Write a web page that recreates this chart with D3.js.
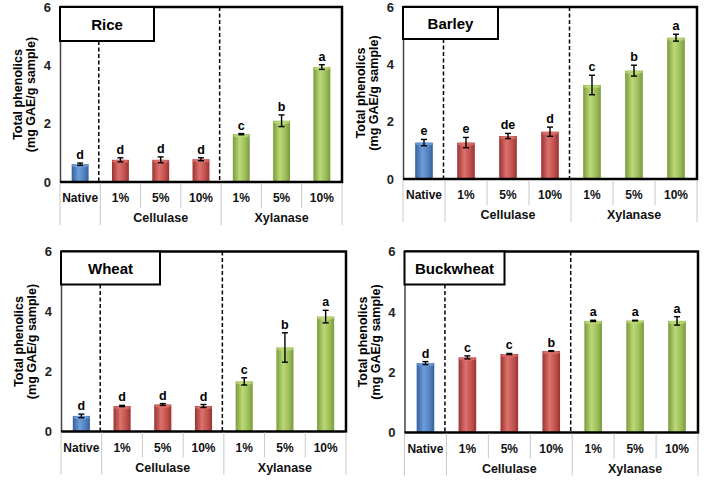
<!DOCTYPE html>
<html lang="en">
<head>
    <meta charset="UTF-8">
    <title>Total phenolics</title>
    <script src="https://cdn.jsdelivr.net/npm/d3@7/dist/d3.min.js"></script>
    <style>
        body { margin: 0; background: #fff; }
        text { font-family: "Liberation Sans", Arial, sans-serif; font-weight: bold; fill: #000; }
    </style>
</head>
<body>
    <script>
        // data
        const categories = ["Native", "C1", "C5", "C10", "X1", "X5", "X10"];
        const tickLabels = ["Native", "1%", "5%", "10%", "1%", "5%", "10%"];
        const groups = ["Cellulase", "Xylanase"];
        const yTicks = [0, 2, 4, 6];

        const riceValues = [0.61, 0.76, 0.76, 0.78, 1.64, 2.10, 3.94];
        const riceErrors = [0.04, 0.07, 0.10, 0.05, 0.02, 0.20, 0.08];
        const riceLetters = ["d", "d", "d", "d", "c", "b", "a"];

        const barleyValues = [1.27, 1.27, 1.50, 1.65, 3.28, 3.78, 4.93];
        const barleyErrors = [0.11, 0.18, 0.09, 0.16, 0.34, 0.19, 0.12];
        const barleyLetters = ["e", "e", "de", "d", "c", "b", "a"];

        const wheatValues = [0.52, 0.85, 0.90, 0.85, 1.67, 2.80, 3.83];
        const wheatErrors = [0.06, 0.02, 0.03, 0.05, 0.12, 0.49, 0.21];
        const wheatLetters = ["d", "d", "d", "d", "c", "b", "a"];

        const buckValues = [2.30, 2.49, 2.60, 2.70, 3.70, 3.71, 3.70];
        const buckErrors = [0.05, 0.05, 0.02, 0.01, 0.02, 0.01, 0.14];
        const buckLetters = ["d", "c", "c", "b", "a", "a", "a"];

        const w = 710, h = 499;

        const svg = d3.select("body")
            .append("svg")
            .attr("width", w)
            .attr("height", h);

        // cylinder-like shading per treatment
        const shades = {
            blue:  ["#35609a", "#6e9ddb", "#4f81bd"],
            red:   ["#9a3330", "#dc716d", "#c0504d"],
            green: ["#7a9a3a", "#bcd978", "#9bbb59"]
        };
        const defs = svg.append("defs");
        Object.keys(shades).forEach(k => {
            const g = defs.append("linearGradient").attr("id", "g-" + k)
                .attr("x1", "0%").attr("x2", "100%").attr("y1", "0%").attr("y2", "0%");
            g.append("stop").attr("offset", "0%").attr("stop-color", shades[k][0]);
            g.append("stop").attr("offset", "40%").attr("stop-color", shades[k][1]);
            g.append("stop").attr("offset", "75%").attr("stop-color", shades[k][2]);
            g.append("stop").attr("offset", "100%").attr("stop-color", shades[k][0]);
        });
        const colorOf = i => i === 0 ? "blue" : (i < 4 ? "red" : "green");

        const panels = [
            { name: "Rice", values: riceValues, errors: riceErrors, letters: riceLetters,
              left: 60, right: 342, top: 7, bottom: 182, tw: 94, th: 34 },
            { name: "Barley", values: barleyValues, errors: barleyErrors, letters: barleyLetters,
              left: 403, right: 697, top: 7, bottom: 179, tw: 95, th: 32 },
            { name: "Wheat", values: wheatValues, errors: wheatErrors, letters: wheatLetters,
              left: 61, right: 346, top: 251.5, bottom: 431.5, tw: 99, th: 33 },
            { name: "Buckwheat", values: buckValues, errors: buckErrors, letters: buckLetters,
              left: 404.5, right: 698, top: 251.5, bottom: 432.5, tw: 100, th: 33 }
        ];

        panels.forEach(p => {
            const g = svg.append("g");
            const rows = categories.map((c, i) => ({
                cat: c, v: p.values[i], e: p.errors[i], l: p.letters[i], i: i
            }));

            const x = d3.scaleBand()
                .domain(categories)
                .range([p.left, p.right])
                .paddingInner(0.58)
                .paddingOuter(0.29);
            const step = x.step();
            const y = d3.scaleLinear().domain([0, 6]).range([p.bottom, p.top]);

            // y axis
            const yAxis = d3.axisLeft(y).tickValues(yTicks).tickFormat(d3.format("d"))
                .tickSize(0).tickPadding(9);
            const ga = g.append("g")
                .attr("transform", "translate(" + p.left + ",0)")
                .call(yAxis);
            ga.select(".domain").attr("stroke", "#444").attr("stroke-width", 1.5);
            ga.selectAll("text").style("font-size", "13px").style("fill", "#222");

            // y title
            const cy = (p.top + p.bottom) / 2;
            g.append("text")
                .attr("transform", "translate(" + (p.left - 38) + "," + cy + ") rotate(-90)")
                .attr("text-anchor", "middle")
                .style("font-size", "12.5px")
                .text("Total phenolics");
            g.append("text")
                .attr("transform", "translate(" + (p.left - 25) + "," + cy + ") rotate(-90)")
                .attr("text-anchor", "middle")
                .style("font-size", "12.5px")
                .text("(mg GAE/g sample)");

            // dashed separators between treatments
            const b1 = p.left + step - 1.5;
            const b2 = p.left + 4 * step - 1.5;
            g.append("line")
                .attr("x1", b1).attr("x2", b1)
                .attr("y1", p.top + p.th).attr("y2", p.bottom)
                .attr("stroke", "#000").attr("stroke-width", 1.5)
                .attr("stroke-dasharray", "4,2.5");
            g.append("line")
                .attr("x1", b2).attr("x2", b2)
                .attr("y1", p.top).attr("y2", p.bottom)
                .attr("stroke", "#000").attr("stroke-width", 1.5)
                .attr("stroke-dasharray", "4,2.5");

            // bars
            g.selectAll("rect.bar")
                .data(rows)
                .enter()
                .append("rect")
                .attr("class", "bar")
                .attr("x", d => x(d.cat))
                .attr("y", d => y(d.v))
                .attr("width", x.bandwidth())
                .attr("height", d => y(0) - y(d.v))
                .attr("fill", d => "url(#g-" + colorOf(d.i) + ")");
            g.selectAll("ellipse.cap")
                .data(rows)
                .enter()
                .append("ellipse")
                .attr("class", "cap")
                .attr("cx", d => x(d.cat) + x.bandwidth() / 2)
                .attr("cy", d => y(d.v) + 1.5)
                .attr("rx", x.bandwidth() / 2)
                .attr("ry", 1.8)
                .attr("fill", d => shades[colorOf(d.i)][1])
                .attr("opacity", 0.8);

            // error bars
            const eb = g.selectAll("g.err")
                .data(rows)
                .enter()
                .append("g")
                .attr("class", "err")
                .attr("stroke", "#000")
                .attr("stroke-width", 1.4);
            const cx = d => x(d.cat) + x.bandwidth() / 2;
            eb.append("line")
                .attr("x1", cx).attr("x2", cx)
                .attr("y1", d => y(d.v - d.e)).attr("y2", d => y(d.v + d.e));
            eb.append("line")
                .attr("x1", d => cx(d) - 3).attr("x2", d => cx(d) + 3)
                .attr("y1", d => y(d.v - d.e)).attr("y2", d => y(d.v - d.e));
            eb.append("line")
                .attr("x1", d => cx(d) - 3).attr("x2", d => cx(d) + 3)
                .attr("y1", d => y(d.v + d.e)).attr("y2", d => y(d.v + d.e));

            // significance letters
            g.selectAll("text.letter")
                .data(rows)
                .enter()
                .append("text")
                .attr("class", "letter")
                .attr("x", cx)
                .attr("y", d => y(d.v + d.e) - 4)
                .attr("text-anchor", "middle")
                .style("font-size", "12.5px")
                .text(d => d.l);

            // frame
            g.append("path")
                .attr("d", "M" + p.left + "," + p.top + "H" + p.right + "V" + p.bottom + "H" + p.left)
                .attr("fill", "none")
                .attr("stroke", "#000")
                .attr("stroke-width", 2.5);

            // category table under the axis
            const bounds = d3.range(categories.length + 1);
            g.selectAll("line.sep")
                .data(bounds)
                .enter()
                .append("line")
                .attr("class", "sep")
                .attr("x1", i => p.left + i * step).attr("x2", i => p.left + i * step)
                .attr("y1", p.bottom + 1)
                .attr("y2", i => (i === 0 || i === 1 || i === 4 || i === 7) ? p.bottom + 43 : p.bottom + 26)
                .attr("stroke", "#c8c8c8")
                .attr("stroke-width", 1);
            g.selectAll("text.cat")
                .data(rows)
                .enter()
                .append("text")
                .attr("class", "cat")
                .attr("x", cx)
                .attr("y", p.bottom + 20)
                .attr("text-anchor", "middle")
                .style("font-size", "12px")
                .style("fill", "#111")
                .text(d => tickLabels[d.i]);
            g.selectAll("text.grp")
                .data(groups)
                .enter()
                .append("text")
                .attr("class", "grp")
                .attr("x", (d, i) => x(categories[i === 0 ? 2 : 5]) + x.bandwidth() / 2)
                .attr("y", p.bottom + 40)
                .attr("text-anchor", "middle")
                .style("font-size", "12.5px")
                .style("fill", "#111")
                .text(d => d);

            // title box
            g.append("rect")
                .attr("x", p.left).attr("y", p.top)
                .attr("width", p.tw).attr("height", p.th)
                .attr("fill", "#fff")
                .attr("stroke", "#000")
                .attr("stroke-width", 2);
            g.append("text")
                .attr("x", p.left + p.tw / 2)
                .attr("y", p.top + p.th / 2 + 5.5)
                .attr("text-anchor", "middle")
                .style("font-size", "15px")
                .text(p.name);
        });
    </script>
</body>
</html>
